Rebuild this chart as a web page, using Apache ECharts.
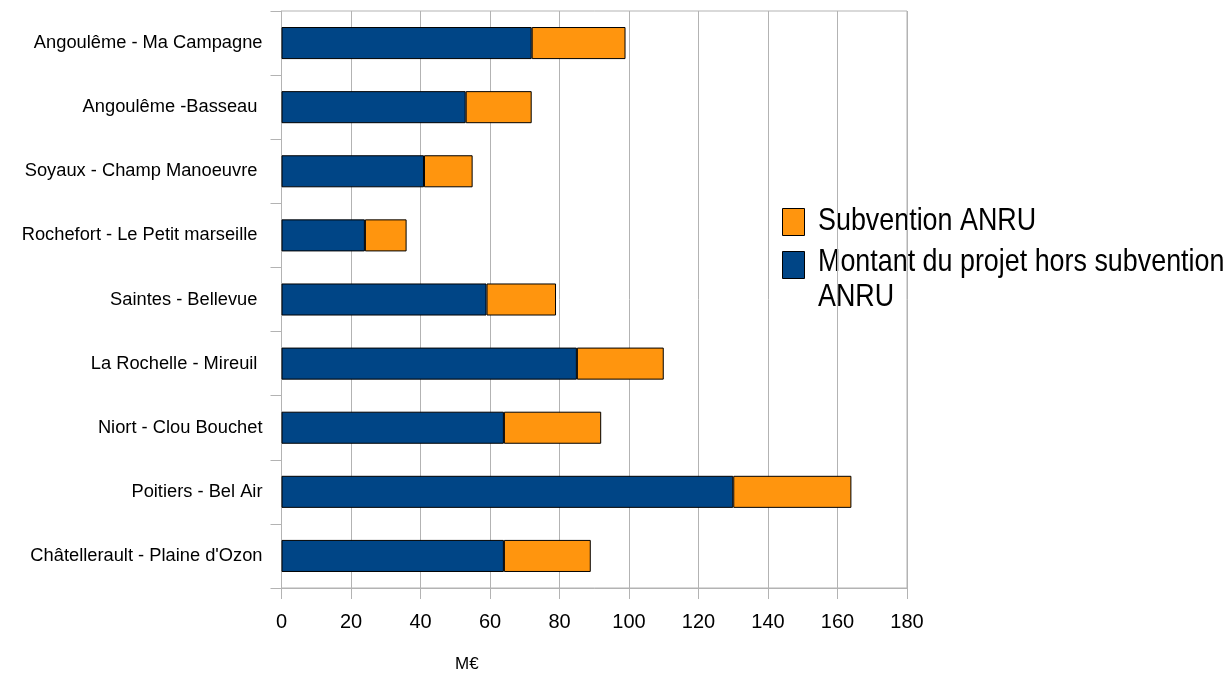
<!DOCTYPE html>
<html>
<head>
<meta charset="utf-8">
<script src="https://cdn.jsdelivr.net/npm/echarts@6/dist/echarts.min.js"></script>
<style>
  html, body { margin: 0; padding: 0; background: #fff; }
  #chart { width: 1229px; height: 674px; }
</style>
</head>
<body>
<div id="chart"></div>
<script>
// Projets de rénovation urbaine : montant hors subvention et subvention ANRU (M€)
const categories = [
  'Angoulême - Ma Campagne',
  'Angoulême -Basseau ',
  'Soyaux - Champ Manoeuvre ',
  'Rochefort - Le Petit marseille ',
  'Saintes - Bellevue ',
  'La Rochelle - Mireuil ',
  'Niort - Clou Bouchet',
  'Poitiers - Bel Air',
  "Châtellerault - Plaine d'Ozon"
];
const montantHorsSubvention = [72, 53, 41, 24, 59, 85, 64, 130, 64];
const subventionAnru = [27, 19, 14, 12, 20, 25, 28, 34, 25];
const xTicks = { min: 0, max: 180, interval: 20 };

const NAME_MONTANT = 'Montant du projet hors subvention ANRU';
const NAME_SUBV = 'Subvention ANRU';
const BLUE = '#004586';
const ORANGE = '#ff950e';
const GRID_GREY = '#b3b3b3';
const FONT = '"Liberation Sans", Arial, sans-serif';

// Legend drawn as graphics so its text can be condensed horizontally
const LEGEND_FONT = '32px "Liberation Sans", Arial, sans-serif';
const LEGEND_SCALE_X = 0.84;

function legendSwatch(y, color) {
  return {
    type: 'rect',
    shape: { x: 782.5, y: y + 0.5, width: 22, height: 27 },
    style: { fill: color, stroke: '#000', lineWidth: 1 },
    silent: true
  };
}
function legendText(y, text) {
  return {
    type: 'text',
    x: 818, y: y,
    scaleX: LEGEND_SCALE_X, scaleY: 1,
    style: { x: 0, y: 0, text: text, font: LEGEND_FONT, fill: '#000', align: 'left', verticalAlign: 'middle' },
    silent: true
  };
}

const chart = echarts.init(document.getElementById('chart'), null, { renderer: 'canvas' });

chart.setOption({
  animation: false,
  backgroundColor: '#ffffff',
  grid: {
    left: 281.5, right: 322, top: 11, bottom: 86,
    show: true, borderColor: GRID_GREY, borderWidth: 1,
    backgroundColor: 'transparent', containLabel: false
  },
  xAxis: {
    type: 'value',
    min: xTicks.min, max: xTicks.max, interval: xTicks.interval,
    axisLine: { show: true, onZero: false, lineStyle: { color: GRID_GREY, width: 1 } },
    axisTick: { show: true, inside: false, length: 11, lineStyle: { color: GRID_GREY } },
    axisLabel: { color: '#000', fontFamily: FONT, fontSize: 20, margin: 24 },
    splitLine: { show: true, lineStyle: { color: GRID_GREY, width: 1 } }
  },
  yAxis: {
    type: 'category',
    data: categories,
    inverse: true,
    axisLine: { show: true, lineStyle: { color: GRID_GREY, width: 1 } },
    axisTick: { show: true, inside: false, length: 11, alignWithLabel: false, lineStyle: { color: GRID_GREY } },
    axisLabel: { color: '#000', fontFamily: FONT, fontSize: 18.3, margin: 19 },
    splitLine: { show: false }
  },
  graphic: [
    {
      type: 'text',
      left: 455, top: 656,
      style: { text: 'M€', font: '17px "Liberation Sans", Arial, sans-serif', fill: '#000' }
    },
    legendSwatch(208, ORANGE),
    legendText(221.5, NAME_SUBV),
    legendSwatch(251, BLUE),
    legendText(262, 'Montant du projet hors subvention'),
    legendText(297, 'ANRU')
  ],
  series: [
    {
      name: NAME_MONTANT,
      type: 'bar',
      stack: 'total',
      barWidth: '50%',
      data: montantHorsSubvention,
      itemStyle: { color: BLUE, borderColor: '#000', borderWidth: 1 }
    },
    {
      name: NAME_SUBV,
      type: 'bar',
      stack: 'total',
      barWidth: '50%',
      data: subventionAnru,
      itemStyle: { color: ORANGE, borderColor: '#000', borderWidth: 1 }
    }
  ]
});
</script>
</body>
</html>
